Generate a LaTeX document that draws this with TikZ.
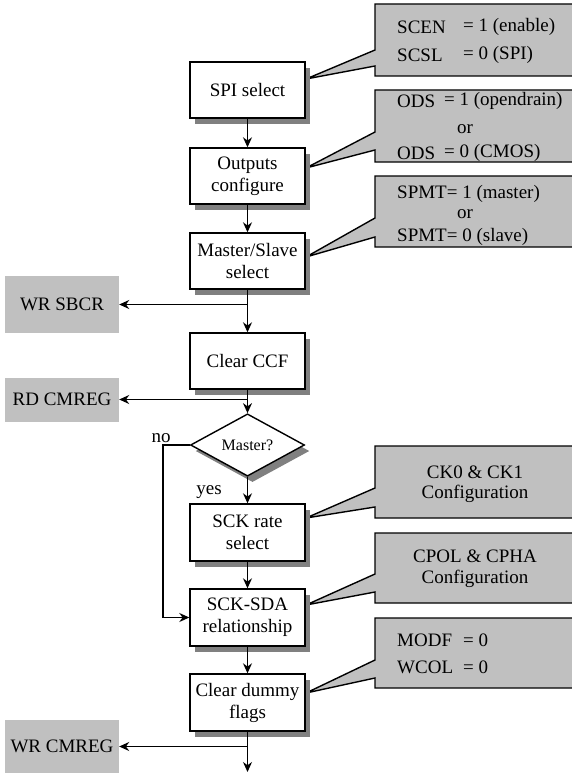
\documentclass[tikz,border=0pt]{standalone}
\usepackage{fontspec}
\newfontfamily\tnr{Liberation Serif}
\usetikzlibrary{arrows.meta,shapes.geometric,shadows}
\definecolor{calloutgray}{HTML}{C0C0C0}
\definecolor{shadowgray}{HTML}{808080}
\begin{document}
\begin{tikzpicture}[x=1pt,y=-1pt,
  myshadow/.style={drop shadow={shadow xshift=5pt, shadow yshift=-6pt, fill=shadowgray, opacity=1}},
  stepbox/.style={draw=black, line width=1.4pt, fill=white, minimum width=115pt, minimum height=56pt,
    inner sep=0pt, align=center, font=\tnr\fontsize{19}{22}\selectfont, myshadow},
  decbox/.style={diamond, draw=black, line width=1.4pt, fill=white, minimum width=114pt, minimum height=56pt,
    inner sep=0pt, font=\tnr\fontsize{16}{18}\selectfont, myshadow},
  regbox/.style={fill=calloutgray, minimum width=114pt, inner sep=0pt, font=\tnr\fontsize{19}{22}\selectfont},
  arr/.style={-{Stealth[length=10pt,width=9pt]}, line width=1.4pt},
  callout/.style={draw=black, fill=calloutgray, line width=1.4pt},
  ctext/.style={font=\tnr\fontsize{19}{22}\selectfont, inner sep=0pt},
  lbl/.style={font=\tnr\fontsize{19}{22}\selectfont, inner sep=0pt}]
\useasboundingbox (0,0) rectangle (572,773);
\clip (0,0) rectangle (572,773);

% callouts
\draw[callout] (375,4) -- (580,4) -- (580,76) -- (375,76) -- (375,66) -- (306,79) -- (375,50) -- cycle;
\draw[callout] (375,90) -- (580,90) -- (580,162) -- (375,162) -- (375,150) -- (306,168) -- (375,132) -- cycle;
\draw[callout] (375,176) -- (580,176) -- (580,247) -- (375,247) -- (375,237) -- (306,257) -- (375,218) -- cycle;
\draw[callout] (375,446) -- (580,446) -- (580,518) -- (375,518) -- (375,507) -- (306,518) -- (375,488) -- cycle;
\draw[callout] (375,533) -- (580,533) -- (580,603) -- (375,603) -- (375,592) -- (306,605) -- (375,574) -- cycle;
\draw[callout] (375,618) -- (580,618) -- (580,688) -- (375,688) -- (375,678) -- (306,693) -- (375,660) -- cycle;

% callout texts
\node[ctext, anchor=west] (t1a) at (397,27) {SCEN};
\node[ctext, anchor=west] (t1b) at (463,27) {= 1 (enable)};
\node[ctext, anchor=west] (t1c) at (397,55) {SCSL};
\node[ctext, anchor=west] (t1d) at (463,55) {= 0 (SPI)};

\node[ctext, anchor=west] (t2a) at (397,101) {ODS};
\node[ctext, anchor=west] (t2b) at (444,101) {= 1 (opendrain)};
\node[ctext] (t2c) at (465,129) {or};
\node[ctext, anchor=west] (t2d) at (397,153) {ODS};
\node[ctext, anchor=west] (t2e) at (444,153) {= 0 (CMOS)};

\node[ctext, anchor=west] (t3a) at (397,194) {SPMT= 1 (master)};
\node[ctext] (t3b) at (465,214) {or};
\node[ctext, anchor=west] (t3c) at (397,237) {SPMT= 0 (slave)};

\node[ctext] (t4a) at (475,472) {CK0 \& CK1};
\node[ctext] (t4b) at (475,494) {Configuration};

\node[ctext] (t5a) at (475,556) {CPOL \& CPHA};
\node[ctext] (t5b) at (475,579) {Configuration};

\node[ctext, anchor=west] (t6a) at (397,640) {MODF};
\node[ctext, anchor=west] (t6b) at (463,640) {= 0};
\node[ctext, anchor=west] (t6c) at (397,667) {WCOL};
\node[ctext, anchor=west] (t6d) at (463,667) {= 0};

% left register boxes
\node[regbox, minimum height=57pt] (wr1) at (62,304.5) {WR SBCR};
\node[regbox, minimum height=44pt] (rd1) at (62,399.5) {RD CMREG};
\node[regbox, minimum height=54pt] (wr2) at (62,746.5) {WR CMREG};

% main boxes
\node[stepbox] (b1) at (247.5,90) {SPI select};
\node[stepbox] (b2) at (247.5,176) {Outputs\\configure};
\node[stepbox] (b3) at (247.5,261) {Master/Slave\\select};
\node[stepbox] (b4) at (247.5,361) {Clear CCF};
\node[decbox] (dec) at (247.5,445) {Master?};
\node[stepbox, minimum height=57pt] (b5) at (247.5,532.5) {SCK rate\\select};
\node[stepbox, minimum height=57pt] (b6) at (247.5,617.5) {SCK-SDA\\relationship};
\node[stepbox, minimum height=57pt] (b7) at (247.5,702.5) {Clear dummy\\flags};
\coordinate (endpt) at (247.5,772);

% labels
\node[lbl] (no) at (161,438) {no};
\node[lbl] (yes) at (209,492) {yes};

% connectors
\draw[arr] (b1) -- (b2);
\draw[arr] (b2) -- (b3);
\draw[arr] (b3) -- (b4);
\draw[arr] (b3.south |- wr1.east) -- (wr1.east);
\draw[arr] (b4) -- (dec);
\draw[arr] (b4.south |- rd1.east) -- (rd1.east);
\draw[arr] (dec) -- (b5);
\draw[arr] (dec.west) -- ++(-27,0) |- (b6.west);
\draw[arr] (b5) -- (b6);
\draw[arr] (b6) -- (b7);
\draw[arr] (b7) -- (endpt);
\draw[arr] (b7.south |- wr2.east) -- (wr2.east);
\end{tikzpicture}
\end{document}
